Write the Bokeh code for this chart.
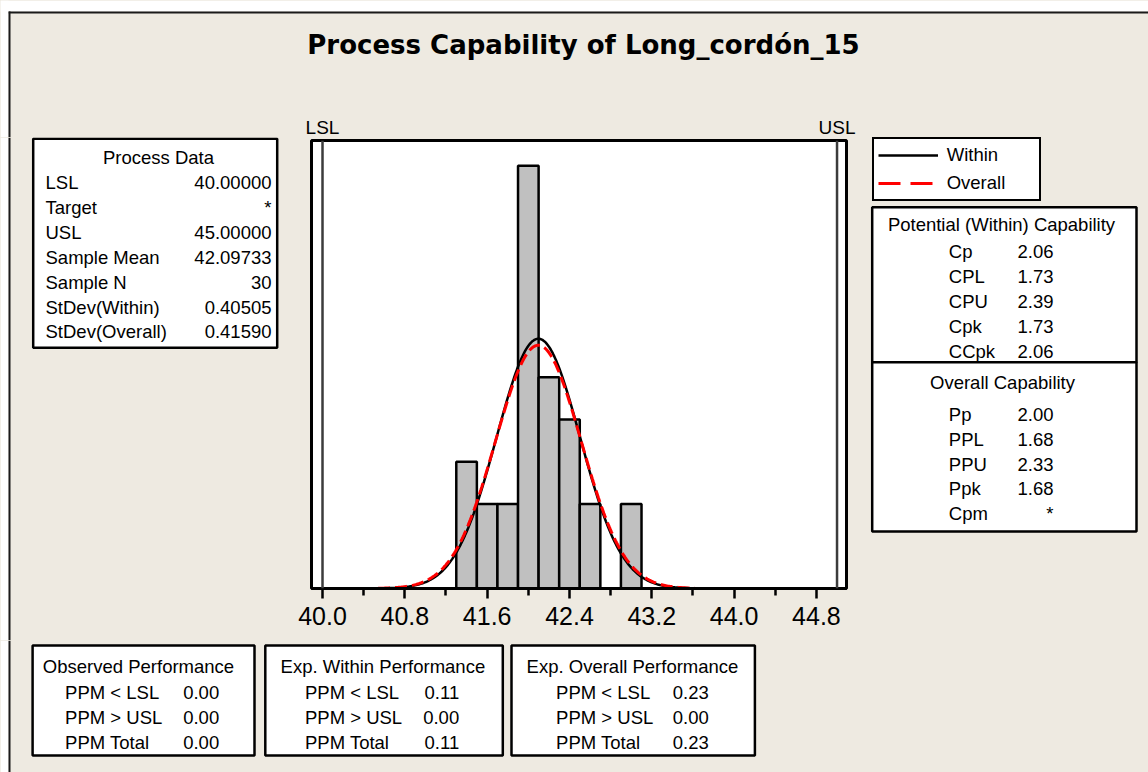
import numpy as np
from bokeh.plotting import figure
from bokeh.layouts import column, row
from bokeh.models import (Range1d, FixedTicker, PrintfTickFormatter, Span, ColumnDataSource,
                          BoxAnnotation, Label, Legend, LegendItem)
from bokeh.embed import file_html
from bokeh.resources import INLINE

# ---------------- data ----------------
bin_mids = [41.4, 41.6, 41.8, 42.0, 42.2, 42.4, 42.6, 42.8, 43.0]
bin_counts = [3, 2, 2, 10, 5, 4, 2, 0, 2]
bin_width = 0.2
lsl = 40.0
usl = 45.0
sample_mean = 42.09733
sample_n = 30
stdev_within = 0.40505
stdev_overall = 0.41590
curve_span = [40.54, 43.62]
x_ticks = [40.0, 40.8, 41.6, 42.4, 43.2, 44.0, 44.8]
x_minor_ticks = [40.4, 41.2, 42.0, 42.8, 43.6, 44.4]

process_labels = ["LSL", "Target", "USL", "Sample Mean", "Sample N",
                  "StDev(Within)", "StDev(Overall)"]
process_values = ["40.00000", "*", "45.00000", "42.09733", "30", "0.40505", "0.41590"]
within_cap_labels = ["Cp", "CPL", "CPU", "Cpk", "CCpk"]
within_cap_values = ["2.06", "1.73", "2.39", "1.73", "2.06"]
overall_cap_labels = ["Pp", "PPL", "PPU", "Ppk", "Cpm"]
overall_cap_values = ["2.00", "1.68", "2.33", "1.68", "*"]
perf_titles = ["Observed Performance", "Exp. Within Performance", "Exp. Overall Performance"]
perf_labels = ["PPM < LSL", "PPM > USL", "PPM Total"]
perf_values = [["0.00", "0.00", "0.00"],
               ["0.11", "0.00", "0.11"],
               ["0.23", "0.00", "0.23"]]

# ---------------- layout constants (page pixels) ----------------
BG = "#EEEAE1"
FONT = "Liberation Sans"
TS = 18.5
PW, PH = 1148, 772
TOP_H = 137          # top band: title, LSL/USL
MID_H = 503          # middle band
LEFT_W, HIST_W = 290, 570
FL, FR, FT, FB = 311, 846, 140, 588   # histogram frame edges (page px)
XS, XE = 39.893, 45.092               # data range of frame
YMAX = 10.6


def panel(x0, x1, y0, y1):
    f = figure(width=int(x1 - x0), height=int(y1 - y0), output_backend="svg",
               toolbar_location=None, title=None,
               x_range=Range1d(x0, x1), y_range=Range1d(y1, y0),
               x_axis_location=None, y_axis_location=None, min_border=0)
    f.min_border_left = f.min_border_right = f.min_border_top = f.min_border_bottom = 0
    f.frame_align = False
    f.outline_line_color = None
    f.background_fill_color = BG
    f.border_fill_color = BG
    for g in f.grid:
        g.visible = False
    return f


def box(f, l, r, t, b, fill="white", lw=2.5, lc="black", **kw):
    f.add_layout(BoxAnnotation(left=l, right=r, top=t, bottom=b,
                               fill_color=fill, fill_alpha=1.0,
                               line_color=lc, line_width=lw,
                               line_alpha=1.0 if lw > 0 else 0.0, **kw))


def txt(f, x, y, s, align="left", size=TS, bold=False, font=FONT, **kw):
    # y is the wanted baseline (page px); Bokeh sets the text about 0.32em lower
    f.add_layout(Label(x=x, y=y - 0.32 * size, text=s,
                       text_align=align, text_baseline="alphabetic",
                       text_font=font, text_font_size=f"{size}px",
                       text_font_style="bold" if bold else "normal",
                       text_color="black", **kw))


def left_border(f, y0, y1):
    box(f, 0, 8, y0, y1, fill="white", lw=0)
    box(f, 8, 10, max(y0, 11), y1, fill="#1a1a1a", lw=0)


# ---------------- top band ----------------
top = panel(0, PW, 0, TOP_H)
box(top, 0, PW, 0, 11, fill="white", lw=0)
box(top, 8, PW, 11, 13, fill="#1a1a1a", lw=0)
left_border(top, 0, TOP_H)
txt(top, 583, 53, "Process Capability of Long_cordón_15", align="center", size=26,
    bold=True, font="DejaVu Sans")
px_per_unit = (FR - FL) / (XE - XS)
top.extra_x_ranges = {"data": Range1d(XS + (0 - FL) / px_per_unit, XS + (PW - FL) / px_per_unit)}
txt(top, lsl, 133.5, "LSL", align="center", size=19, x_range_name="data")
txt(top, usl, 133.5, "USL", align="center", size=19, x_range_name="data")

# ---------------- histogram ----------------
hx0 = LEFT_W
hist = figure(width=HIST_W, height=MID_H, output_backend="svg", toolbar_location=None,
              title=None, x_range=Range1d(XS, XE), y_range=Range1d(0, YMAX),
              y_axis_location=None,
              min_border_left=FL - hx0, min_border_right=HIST_W - (FR - hx0),
              min_border_top=FT - TOP_H, min_border_bottom=MID_H - (FB - TOP_H))
hist.frame_align = False
hist.border_fill_color = BG
hist.background_fill_color = "white"
hist.outline_line_color = "black"
hist.outline_line_width = 3
for g in hist.grid:
    g.visible = False

lefts = [m - bin_width / 2 for m in bin_mids]
rights = [m + bin_width / 2 for m in bin_mids]
hist.quad(left=lefts, right=rights, top=bin_counts, bottom=0,
          fill_color="#C0C0C0", line_color="black", line_width=2.5)

xs = np.linspace(curve_span[0], curve_span[1], 300)


def fitted(sd):
    return sample_n * bin_width * np.exp(-0.5 * ((xs - sample_mean) / sd) ** 2) / (sd * np.sqrt(2 * np.pi))


curves = ColumnDataSource(dict(x=xs, within=fitted(stdev_within), overall=fitted(stdev_overall)))
hist.line("x", "within", source=curves, line_color="black", line_width=2.5)
hist.line("x", "overall", source=curves, line_color="#FF0000", line_width=3, line_dash="12 5")

for loc in (lsl, usl):
    hist.add_layout(Span(location=loc, dimension="height", line_color="#3c3c3c", line_width=2.5))

ax = hist.xaxis[0]
ax.ticker = FixedTicker(ticks=x_ticks, minor_ticks=x_minor_ticks)
ax.formatter = PrintfTickFormatter(format="%.1f")
ax.axis_line_width = 3
ax.axis_line_color = "black"
ax.major_tick_line_width = 2.5
ax.minor_tick_line_width = 2.5
ax.major_tick_in = 0
ax.major_tick_out = 10
ax.minor_tick_in = 0
ax.minor_tick_out = 7
ax.major_label_text_font = FONT
ax.major_label_text_font_size = "25px"
ax.major_label_text_color = "black"
ax.major_label_standoff = 8

# ---------------- left panel: process data ----------------
lp = panel(0, LEFT_W, TOP_H, TOP_H + MID_H)
left_border(lp, TOP_H, TOP_H + MID_H)
box(lp, 32.7, 276.7, 138.3, 347.3)
txt(lp, 158, 163, "Process Data", align="center")
for i, (lab, val) in enumerate(zip(process_labels, process_values)):
    yb = 188.3 + 24.85 * i
    txt(lp, 45, yb, lab)
    txt(lp, 271, yb, val, align="right")

# ---------------- right panel: legend + capability ----------------
rx0 = LEFT_W + HIST_W
rp = panel(rx0, PW, TOP_H, TOP_H + MID_H)
box(rp, 871.7, 1136, 206.7, 361.7)
box(rp, 871.7, 1136, 361.7, 531)
txt(rp, 1001, 230, "Potential (Within) Capability", align="center")
for i, (lab, val) in enumerate(zip(within_cap_labels, within_cap_values)):
    yb = 256.7 + 25 * i
    txt(rp, 948.3, yb, lab)
    txt(rp, 1053, yb, val, align="right")
txt(rp, 1002, 388.3, "Overall Capability", align="center")
for i, (lab, val) in enumerate(zip(overall_cap_labels, overall_cap_values)):
    yb = 420 + 24.8 * i
    txt(rp, 948.3, yb, lab)
    txt(rp, 1053, yb, val, align="right")

# legend entries: same curves (they fall outside this panel's view, only the legend shows)
pw_ = rp.line("x", "within", source=curves, line_color="black", line_width=2.5)
po_ = rp.line("x", "overall", source=curves, line_color="#FF0000", line_width=3, line_dash="22 10")
legend = Legend(items=[LegendItem(label="Within", renderers=[pw_]),
                       LegendItem(label="Overall", renderers=[po_])],
                location=(871.7 - rx0, TOP_H + MID_H - 201),
                border_line_color="black", border_line_width=2.5, border_line_alpha=1.0,
                background_fill_color="white", background_fill_alpha=1.0,
                padding=4, spacing=4, margin=0,
                glyph_width=60, glyph_height=24, label_height=24, label_width=88,
                label_standoff=9,
                label_text_font=FONT, label_text_font_size=f"{TS}px", label_text_color="black")
rp.add_layout(legend)

# ---------------- bottom band: performance ----------------
bp = panel(0, PW, TOP_H + MID_H, PH)
left_border(bp, TOP_H + MID_H, PH)
perf_geom = [(32.1, 254, 138, 64.6, 218.7),
             (264.8, 502.3, 382.4, 304.5, 458.7),
             (511, 754.4, 632, 555.6, 708.3)]
for (l, r, cx, lx, vx), title, vals in zip(perf_geom, perf_titles, perf_values):
    box(bp, l, r, 645, 755)
    txt(bp, cx, 671.5, title, align="center")
    for j, (lab, v) in enumerate(zip(perf_labels, vals)):
        yb = 698 + 25 * j
        txt(bp, lx, yb, lab)
        txt(bp, vx, yb, v, align="right")

layout = column(top, row(lp, hist, rp, spacing=0, styles={"background-color": BG}),
                bp, spacing=0, styles={"background-color": BG})
open("out.html", "w").write(file_html(layout, INLINE, "Process Capability"))
